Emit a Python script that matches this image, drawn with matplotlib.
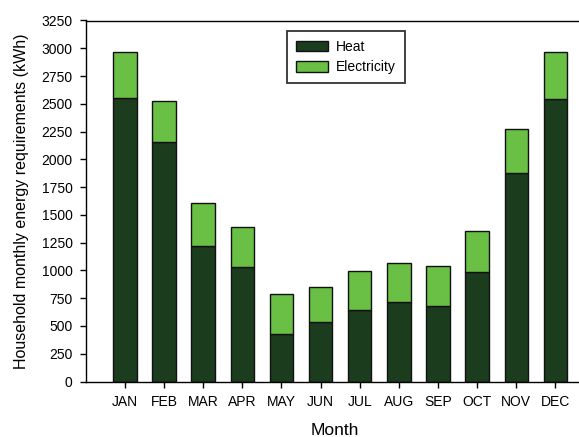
import matplotlib
matplotlib.use("Agg")
import matplotlib.pyplot as plt
import numpy as np

plt.rcParams['font.family'] = ['Liberation Sans', 'DejaVu Sans']

months = ["JAN", "FEB", "MAR", "APR", "MAY", "JUN", "JUL", "AUG", "SEP", "OCT", "NOV", "DEC"]
heat = [2549, 2155, 1222, 1030, 425, 535, 641, 713, 677, 985, 1879, 2540]
total = [2965, 2524, 1609, 1388, 787, 848, 997, 1063, 1037, 1351, 2275, 2965]
electricity = [t - h for t, h in zip(total, heat)]
yticks = list(range(0, 3251, 250))

fig = plt.figure(figsize=(5.79, 4.37), dpi=100)
ax = fig.add_axes([85.7 / 579, 1 - 381.5 / 437, (579 - 85.7) / 579 + 0.01, (381.5 - 20.5) / 437])

x = np.arange(len(months))
ax.bar(x, heat, width=0.6, color="#1b3d1e", edgecolor="#111111", linewidth=1.0, label="Heat")
ax.bar(x, electricity, bottom=heat, width=0.6, color="#6abf45", edgecolor="#111111", linewidth=1.0, label="Electricity")

ax.set_xlim(-1, 11.75)
ax.set_ylim(0, 3250)
ax.set_xticks(x)
ax.set_xticklabels(months, fontsize=10)
ax.set_yticks(yticks)
ax.set_yticklabels([str(v) for v in yticks], fontsize=10)
ax.tick_params(direction="out", length=4.5, width=1, pad=5)
ax.spines['right'].set_visible(False)
for s in ['top', 'left', 'bottom']:
    ax.spines[s].set_linewidth(1.0)

ax.set_xlabel("Month", fontsize=12.5, labelpad=10)
ax.set_ylabel("Household monthly energy requirements (kWh)", fontsize=11.5, labelpad=9)

leg = ax.legend(loc="upper left", bbox_to_anchor=((285 - 85.7) / (579 - 85.7), 1 - (31 - 20.5) / 361),
                borderaxespad=0, fontsize=10, fancybox=False, edgecolor="#333333", framealpha=1,
                handlelength=2.3, handleheight=0.77, handletextpad=0.55,
                borderpad=0.65, labelspacing=0.45)
leg.get_frame().set_linewidth(1.3)

fig.savefig("out.png", dpi=100)
